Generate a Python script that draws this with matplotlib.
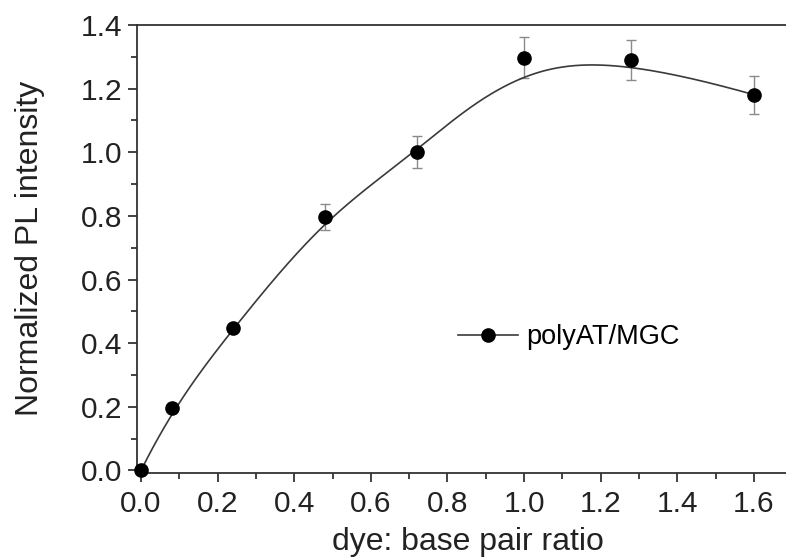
import numpy as np
import matplotlib
matplotlib.use("Agg")
import matplotlib.pyplot as plt
from matplotlib.lines import Line2D
from matplotlib.ticker import MultipleLocator

plt.rcParams['font.family'] = ['Liberation Sans', 'DejaVu Sans']

ratio = [0.0, 0.08, 0.24, 0.48, 0.72, 1.0, 1.28, 1.6]
intensity = [0.0, 0.195, 0.447, 0.797, 1.0, 1.297, 1.289, 1.181]
err = [0.0, 0.01, 0.01, 0.04, 0.05, 0.065, 0.063, 0.06]
label = "polyAT/MGC"


def bspline(ctrl_x, ctrl_y, degree=3, n=400):
    P = np.column_stack([ctrl_x, ctrl_y])
    m = len(P)
    inner = np.arange(1, m - degree)
    knots = np.concatenate([np.zeros(degree + 1), inner, np.full(degree + 1, m - degree)]).astype(float)
    ts = np.linspace(0, m - degree, n)
    out = []
    for t in ts:
        N = np.zeros(len(knots) - 1)
        for i in range(len(knots) - 1):
            if knots[i] <= t < knots[i + 1]:
                N[i] = 1.0
        if t >= knots[-1]:
            N[m - 1] = 1.0
        for k in range(1, degree + 1):
            Nn = np.zeros(len(knots) - 1 - k)
            for i in range(len(Nn)):
                a = 0.0
                d1 = knots[i + k] - knots[i]
                if d1 > 0:
                    a += (t - knots[i]) / d1 * N[i]
                d2 = knots[i + k + 1] - knots[i + 1]
                if d2 > 0:
                    a += (knots[i + k + 1] - t) / d2 * N[i + 1]
                Nn[i] = a
            N = Nn
        out.append(N[:m] @ P)
    out = np.array(out)
    return out[:, 0], out[:, 1]


fig = plt.figure(figsize=(7.86, 5.58), dpi=100)
ax = fig.add_axes([0.1741, 0.1529, 0.8435, 0.8023])

cx, cy = bspline(ratio, intensity)
ax.plot(cx, cy, color='#3a3a3a', lw=1.2, zorder=2)
ax.errorbar(ratio, intensity, yerr=err, fmt='none', ecolor='#8a8a8a',
            elinewidth=1.0, capsize=3.5, capthick=1.0, zorder=1)
ax.plot(ratio, intensity, 'o', color='black', ms=9.5, zorder=3, clip_on=False)

ax.set_xlim(-0.011, 1.72)
ax.set_ylim(-0.007, 1.4)
ax.xaxis.set_minor_locator(MultipleLocator(0.1))
ax.yaxis.set_major_locator(MultipleLocator(0.2))
ax.yaxis.set_minor_locator(MultipleLocator(0.1))
xt = np.round(np.arange(0, 1.61, 0.2), 1)
ax.set_xticks(xt)
ax.set_xticklabels([f"{v:.1f}" for v in xt])

for s in ['left', 'bottom', 'top', 'right']:
    ax.spines[s].set_linewidth(1.3)
    ax.spines[s].set_color('#333333')

ax.tick_params(axis='both', which='major', direction='out', length=6.5, width=1.2,
               labelsize=21.5, colors='#222222')
ax.tick_params(axis='x', which='major', pad=6)
ax.tick_params(axis='y', which='major', pad=4)
ax.tick_params(axis='both', which='minor', direction='out', length=4, width=1.2,
               colors='#222222')
ax.tick_params(top=False, right=False, which='both')

ax.set_xlabel("dye: base pair ratio", fontsize=23, color='#222222', labelpad=6.5)
ax.set_ylabel("Normalized PL intensity", fontsize=23, color='#222222', labelpad=26)

handle = Line2D([], [], color='#3a3a3a', lw=1.2, marker='o', ms=9.5,
                markerfacecolor='black', markeredgecolor='black')
ax.legend([handle], [label], loc='center left', bbox_to_anchor=(0.4845, 0.303),
          frameon=False, fontsize=19.5, handlelength=2.2, handletextpad=0.33,
          borderpad=0, borderaxespad=0)

fig.savefig("out.png", dpi=100)
